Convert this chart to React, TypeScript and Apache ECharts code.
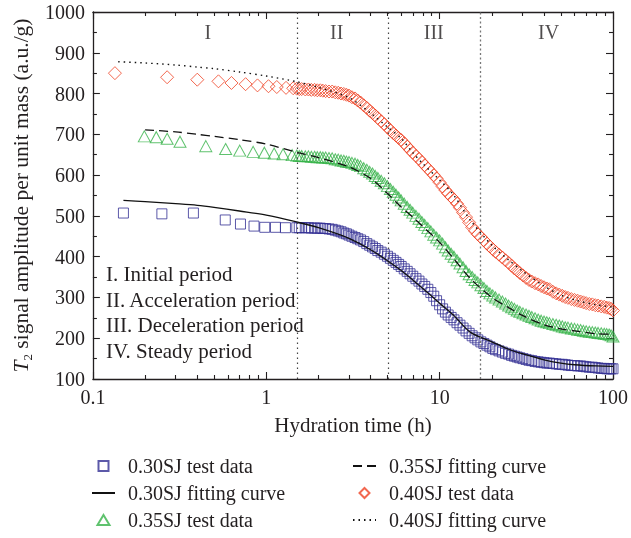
import React, { useEffect, useRef } from 'react';
import * as echarts from 'echarts';

const FONT = "'Liberation Serif', 'Times New Roman', serif";
const TEXT = '#231f20';
const BLUE = '#332f94';
const GREEN = '#37b34a';
const RED = '#ef4123';

// Sparse early test points (hours, a.u./g)
const blueEarlyTimes = [0.15, 0.25, 0.38, 0.58, 0.71, 0.85, 0.98, 1.13, 1.29];
const blueEarlyValues = [507, 505, 507, 490, 480, 475, 472, 472, 471];
const greenEarlyTimes = [0.198, 0.232, 0.268, 0.318, 0.448, 0.583, 0.703, 0.84, 0.975, 1.11, 1.25, 1.41];
const greenEarlyValues = [695, 693, 689, 682, 671, 664, 660, 657, 655, 653, 651, 649];
const redEarlyTimes = [0.134, 0.268, 0.4, 0.53, 0.63, 0.76, 0.89, 1.03, 1.15, 1.3, 1.43];
const redEarlyValues = [850, 840, 834, 830, 826, 823, 820, 818, 816, 814, 813];

// Dense test points, sampling times set A (hours)
const denseTimesA = [1.5, 1.6, 1.75, 1.9, 2.05, 2.2, 2.4, 2.6, 2.8, 3.0, 3.25, 3.5, 3.8, 4.1, 4.4, 4.8, 5.2, 5.6, 6.0, 6.5, 7.0, 7.6, 8.2, 8.9, 9.6, 10.4, 11.2, 12.1, 13.1, 14.2, 15.4, 16.6, 18, 19.5, 21, 23, 25, 27, 29, 31.5, 34, 37, 40, 43, 47, 51, 55, 60, 65, 70, 76, 82, 89, 95, 100];
const blueDenseA = [471, 471, 471, 470, 470, 469, 467, 463, 458, 453, 447, 441, 432, 424, 415, 406, 396, 386, 376, 364, 352, 340, 327, 312, 292, 272, 257, 245, 232, 218, 206, 196, 187, 179, 172, 166, 161, 156, 152, 148, 145, 142, 140, 139, 137, 136, 134, 133, 132, 130, 129, 127, 126, 125, 125];
const greenDenseA = [648, 647, 646, 645, 644, 643, 641, 638, 635, 632, 628, 622, 613, 604, 593, 580, 566, 552, 538, 522, 508, 493, 478, 462, 447, 432, 415, 400, 383, 365, 350, 337, 323, 310, 300, 290, 280, 272, 265, 258, 252, 246, 241, 237, 233, 229, 226, 223, 220, 217, 215, 213, 211, 209, 204];
const redDenseA = [812, 811, 810, 809, 808, 806, 805, 802, 799, 795, 788, 778, 765, 752, 740, 725, 710, 697, 686, 670, 655, 640, 624, 608, 592, 572, 555, 540, 520, 497, 472, 455, 440, 425, 412, 398, 385, 371, 360, 348, 339, 332, 325, 320, 310, 304, 299, 294, 290, 286, 283, 280, 277, 274, 268];

// Dense test points, sampling times set B (hours)
const denseTimesB = [1.55, 1.68, 1.82, 1.97, 2.12, 2.3, 2.5, 2.7, 2.9, 3.12, 3.37, 3.65, 3.95, 4.25, 4.6, 5.0, 5.4, 5.8, 6.25, 6.75, 7.3, 7.9, 8.55, 9.25, 10.0, 10.8, 11.65, 12.6, 13.65, 14.8, 16.0, 17.3, 18.75, 20.25, 22, 24, 26, 28, 30.25, 32.75, 35.5, 38.5, 41.5, 45, 49, 53, 57.5, 62.5, 67.5, 73, 79, 85.5, 92, 97.5];
const blueDenseB = [471, 471, 470, 470, 469, 468, 465, 461, 456, 450, 444, 437, 428, 420, 411, 401, 391, 381, 370, 358, 346, 333, 320, 303, 282, 264, 251, 238, 225, 212, 201, 191, 183, 175, 169, 163, 158, 154, 150, 146, 143, 141, 139, 138, 136, 135, 133, 132, 131, 129, 128, 126, 125, 125];
const greenDenseB = [647, 646, 645, 644, 643, 642, 639, 636, 633, 630, 625, 617, 608, 598, 586, 573, 559, 545, 530, 515, 500, 485, 470, 454, 440, 423, 407, 391, 374, 357, 343, 330, 316, 305, 295, 285, 276, 268, 261, 255, 249, 243, 239, 235, 231, 227, 224, 221, 218, 216, 214, 212, 210, 207];
const redDenseB = [811, 810, 809, 808, 807, 805, 803, 800, 797, 791, 783, 771, 758, 746, 732, 717, 703, 691, 678, 662, 647, 632, 616, 600, 582, 563, 547, 530, 508, 484, 463, 448, 432, 418, 405, 391, 378, 366, 354, 343, 335, 328, 322, 314, 307, 301, 296, 292, 288, 284, 281, 278, 275, 272];

// Fitting curves
const blueFitTimes = [0.15, 0.2, 0.3, 0.4, 0.5, 0.7, 1, 1.5, 2, 3, 4, 5, 6, 7, 8, 10, 12, 15, 20, 25, 30, 40, 50, 60, 80, 100];
const blueFit = [538, 535, 530, 526, 521, 512, 502, 485, 471, 445, 417, 390, 366, 343, 322, 286, 257, 215, 191, 173, 162, 147, 139, 135, 132, 131];
const greenFitTimes = [0.2, 0.3, 0.4, 0.5, 0.7, 1, 1.5, 2, 3, 4, 5, 6, 7, 8, 10, 12, 15, 20, 25, 30, 40, 50, 60, 80, 100];
const greenFit = [711, 706, 700, 695, 687, 676, 656, 643, 620, 592, 555, 522, 497, 474, 435, 396, 347, 300, 275, 256, 233, 223, 218, 211, 210];
const redFitTimes = [0.14, 0.2, 0.3, 0.4, 0.5, 0.7, 1, 1.5, 2, 3, 4, 5, 6, 7, 8, 10, 12, 15, 20, 25, 30, 40, 50, 60, 80, 100];
const redFit = [878, 875, 870, 865, 861, 853, 843, 829, 815, 790, 752, 718, 690, 655, 628, 588, 552, 490, 428, 392, 365, 328, 306, 294, 282, 276];

// Period boundaries and labels
const periodBounds = [1.5, 5.07, 17.1];
const periodLabels = ['I', 'II', 'III', 'IV'];
const periodLabelX = [0.46, 2.55, 9.25, 42.5];
const periodLabelY = 951;
const periodNotes = ['I. Initial period', 'II. Acceleration period', 'III. Deceleration period', 'IV. Steady period'];

const yTicks = { min: 100, max: 1000, interval: 100 };
const minorTickExps: number[] = [];
[-1, 0, 1].forEach((d) => {
  [2, 3, 4, 5, 6, 7, 8, 9].forEach((k) => minorTickExps.push(d + Math.log10(k)));
});

const zip = (xs: number[], ys: number[]) => xs.map((x, i) => [x, ys[i]]);

const ICON_SQUARE = 'path://M0,0H10V10H0Z';
const ICON_TRIANGLE = 'path://M6,0L12,10H0Z';
const ICON_DIAMOND = 'path://M6,0L12,6L6,12L0,6Z';

export default function App() {
  const ref = useRef<HTMLDivElement>(null);
  useEffect(() => {
    const chart = echarts.init(ref.current!, null, { renderer: 'svg' });
    const axisLine = { show: true, onZero: false, lineStyle: { color: TEXT, width: 1.3 } };
    const tickLine = { color: TEXT, width: 1.1 };
    const scatterStyle = (c: string) => ({ color: 'rgba(0,0,0,0)', borderColor: c, borderWidth: 1 });
    const legendText = { fontFamily: FONT, fontSize: 20, lineHeight: 20, color: TEXT, padding: [0, 0, 0, 8] };
    const hideDot = { opacity: 0 };
    const legendCommon = {
      orient: 'vertical', top: 456, height: 90, padding: 0, itemWidth: 23, itemHeight: 10, itemGap: 7,
      selectedMode: false, symbolKeepAspect: true, textStyle: legendText,
    };
    const option: any = {
      animation: false,
      grid: { left: 91, right: 15, top: 12, bottom: 159 },
      textStyle: { fontFamily: FONT },
      legend: [
        {
          ...legendCommon, left: 91,
          data: [
            { name: '0.30SJ test data', icon: ICON_SQUARE },
            { name: '0.30SJ fitting curve', itemStyle: hideDot },
            { name: '0.35SJ test data', icon: ICON_TRIANGLE },
          ],
        },
        {
          ...legendCommon, left: 352,
          data: [
            { name: '0.35SJ fitting curve', itemStyle: hideDot },
            { name: '0.40SJ test data', icon: ICON_DIAMOND },
            { name: '0.40SJ fitting curve', itemStyle: hideDot },
          ],
        },
      ],
      xAxis: [
        {
          type: 'log', logBase: 10, min: 0.1, max: 100, position: 'bottom',
          axisLine, axisTick: { inside: true, length: 7, lineStyle: tickLine },
          axisLabel: { color: TEXT, fontFamily: FONT, fontSize: 20, margin: 8, formatter: (v: number) => String(v) },
          splitLine: { show: false },
          name: 'Hydration time (h)', nameLocation: 'middle', nameGap: 35,
          nameTextStyle: { color: TEXT, fontFamily: FONT, fontSize: 21 },
        },
        {
          type: 'value', min: -1, max: 2, position: 'bottom',
          axisLine: { show: false, onZero: false },
          axisTick: { show: true, inside: true, length: 4, lineStyle: tickLine, customValues: minorTickExps },
          axisLabel: { show: false }, splitLine: { show: false },
        },
        {
          type: 'log', logBase: 10, min: 0.1, max: 100, position: 'top',
          axisLine, axisTick: { inside: true, length: 7, lineStyle: tickLine },
          axisLabel: { show: false }, splitLine: { show: false },
        },
        {
          type: 'value', min: -1, max: 2, position: 'top',
          axisLine: { show: false, onZero: false },
          axisTick: { show: true, inside: true, length: 4, lineStyle: tickLine, customValues: minorTickExps },
          axisLabel: { show: false }, splitLine: { show: false },
        },
      ],
      yAxis: [
        {
          type: 'value', ...yTicks, position: 'left',
          axisLine, axisTick: { inside: true, length: 7, lineStyle: tickLine },
          minorTick: { show: true, splitNumber: 2, length: 4, lineStyle: tickLine },
          axisLabel: { color: TEXT, fontFamily: FONT, fontSize: 20, margin: 8, formatter: (v: number) => String(v) },
          splitLine: { show: false }, minorSplitLine: { show: false },
          name: '{i|T}{s|2} signal amplitude per unit mass (a.u./g)',
          nameLocation: 'middle', nameGap: 48, nameRotate: 90,
          nameTextStyle: {
            color: TEXT, fontFamily: FONT, fontSize: 21.5, lineHeight: 26,
            rich: {
              i: { fontStyle: 'italic', fontFamily: FONT, fontSize: 21.5, color: TEXT, lineHeight: 26 },
              s: { fontFamily: FONT, fontSize: 13, color: TEXT, verticalAlign: 'bottom', lineHeight: 15 },
            },
          },
        },
        {
          type: 'value', ...yTicks, position: 'right',
          axisLine, axisTick: { inside: true, length: 7, lineStyle: tickLine },
          minorTick: { show: true, splitNumber: 2, length: 4, lineStyle: tickLine },
          axisLabel: { show: false }, splitLine: { show: false }, minorSplitLine: { show: false },
        },
      ],
      series: [
        {
          name: '0.30SJ test data', type: 'scatter', symbol: 'rect', symbolSize: 10,
          itemStyle: scatterStyle(BLUE),
          data: zip(
            [...blueEarlyTimes, ...denseTimesA, ...denseTimesB],
            [...blueEarlyValues, ...blueDenseA, ...blueDenseB],
          ),
          markLine: {
            silent: true, symbol: ['none', 'none'], label: { show: false },
            data: periodBounds.map((x, i) => ({
              xAxis: x,
              lineStyle: i < 2
                ? { color: '#444', width: 1.2, type: [1.5, 3.5] }
                : { color: '#777', width: 1.3, type: [2, 2.5] },
            })),
          },
        },
        {
          name: '0.30SJ fitting curve', type: 'line', smooth: 0.3, symbol: 'none',
          itemStyle: { color: '#111' },
          lineStyle: { color: '#111', width: 1.3, type: 'solid' },
          data: zip(blueFitTimes, blueFit),
        },
        {
          name: '0.35SJ test data', type: 'scatter', symbol: 'triangle', symbolSize: [12, 11],
          itemStyle: scatterStyle(GREEN),
          data: zip(
            [...greenEarlyTimes, ...denseTimesA, ...denseTimesB],
            [...greenEarlyValues, ...greenDenseA, ...greenDenseB],
          ),
        },
        {
          name: '0.35SJ fitting curve', type: 'line', smooth: 0.3, symbol: 'none',
          itemStyle: { color: '#111' },
          lineStyle: { color: '#111', width: 1.3, type: [9, 5] },
          data: zip(greenFitTimes, greenFit),
        },
        {
          name: '0.40SJ test data', type: 'scatter', symbol: 'diamond', symbolSize: 13,
          itemStyle: scatterStyle(RED),
          data: zip(
            [...redEarlyTimes, ...denseTimesA, ...denseTimesB],
            [...redEarlyValues, ...redDenseA, ...redDenseB],
          ),
        },
        {
          name: '0.40SJ fitting curve', type: 'line', smooth: 0.3, symbol: 'none',
          itemStyle: { color: '#111' },
          lineStyle: { color: '#111', width: 1.4, type: [1.5, 4] },
          data: zip(redFitTimes, redFit),
        },
        {
          name: 'periods', type: 'scatter', symbol: 'circle', symbolSize: 1,
          itemStyle: { color: 'rgba(0,0,0,0)' }, silent: true,
          label: { show: true, position: 'inside', formatter: '{b}', color: TEXT, fontFamily: FONT, fontSize: 20 },
          data: periodLabelX.map((x, i) => ({ value: [x, periodLabelY], name: periodLabels[i] })),
        },
      ],
      graphic: [
        {
          type: 'text', left: 106, top: 261, silent: true,
          style: { text: periodNotes.join('\n'), font: `21px ${FONT}`, fill: TEXT, lineHeight: 25.7 },
        },
      ],
    };
    chart.setOption(option);
    return () => chart.dispose();
  }, []);
  return <div ref={ref} style={{ position: 'fixed', left: 0, top: 0, width: 631, height: 538 }} />;
}
